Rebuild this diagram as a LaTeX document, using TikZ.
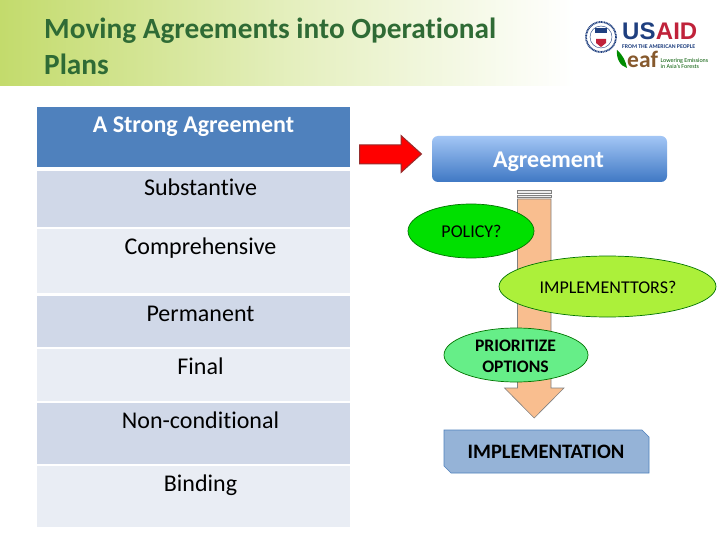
\documentclass[tikz,border=0pt]{standalone}
\usepackage{fontspec}
\setmainfont[Ligatures=NoCommon]{Carlito}
\newfontfamily\logofont{Liberation Sans}
\usetikzlibrary{shapes.geometric,shadings}
\definecolor{hdrgreen}{HTML}{C3DB6C}
\definecolor{titlegreen}{HTML}{2F6B35}
\definecolor{hdrblue}{HTML}{4F81BD}
\definecolor{rowa}{HTML}{D0D8E8}
\definecolor{rowb}{HTML}{E9EDF4}
\definecolor{peach}{HTML}{F9BE8F}
\definecolor{usblue}{HTML}{1F3F7F}
\definecolor{usred}{HTML}{C0223A}
\definecolor{boxtop}{HTML}{A3C6F5}
\definecolor{boxbot}{HTML}{3F78C4}
\tikzset{
  x=1pt,y=-1pt,
  rowtext/.style={font=\fontsize{24}{26}\selectfont,text=black,inner sep=0pt,anchor=base},
  bubble/.style={ellipse,draw=#1,line width=0.7pt,inner sep=0pt,outer sep=0pt},
  bubbletext/.style={text=black,inner sep=0pt,align=center}
}
\begin{document}
\begin{tikzpicture}
\useasboundingbox (0,0) rectangle (720,540);
\fill[white] (0,0) rectangle (720,540);
% header band
\fill[left color=hdrgreen,right color=white,middle color=hdrgreen!45!white] (0,0) rectangle (575,86);
\node[anchor=base west,inner sep=0pt,text=titlegreen,font=\bfseries\fontsize{29.3}{31}\selectfont] (title1) at (44,39) {Moving Agreements into Operational};
\node[anchor=base west,inner sep=0pt,text=titlegreen,font=\bfseries\fontsize{29.3}{31}\selectfont] (title2) at (44,75) {Plans};
% logos
\draw[usblue,line width=1.8pt,dash pattern=on 1pt off 0.6pt] (601,37) circle (15);
\draw[usblue,line width=0.4pt] (601,37) circle (11);
\fill[usblue] (595,28) rectangle (607,33);
\fill[usred] (596,39) -- (606,39) -- (606,43) -- (601,47) -- (596,43) -- cycle;
\node[anchor=base west,inner sep=0pt,font=\logofont\bfseries\fontsize{24}{24}\selectfont,text=usblue] (us) at (622,40) {US};
\node[anchor=base west,inner sep=0pt,font=\logofont\bfseries\fontsize{24}{24}\selectfont,text=usred] (aid) at (us.base east) {AID};
\node[anchor=base west,inner sep=0pt,font=\bfseries\fontsize{5.8}{6}\selectfont,text=usblue] (from) at (622,48.5) {FROM THE AMERICAN PEOPLE};
\fill[green!55!black] (617,50) .. controls (616,58) and (620,66) .. (627,68) .. controls (626,62) and (623,55) .. (617,50) -- cycle;
\node[anchor=base west,inner sep=0pt,font=\bfseries\fontsize{23.5}{25}\selectfont,text=brown!70!black] (leaf) at (627,68) {eaf};
\node[anchor=north west,inner sep=0pt,align=left,font=\fontsize{6}{6.4}\selectfont,text=green!35!black] (leaftext) at (660.5,58) {Lowering Emissions\\in Asia's Forests};
% table
\fill[hdrblue] (37,107) rectangle (350,167);
\fill[rowa] (37,171) rectangle (350,227);
\fill[rowb] (37,229) rectangle (350,293);
\fill[rowa] (37,296) rectangle (350,347);
\fill[rowb] (37,349) rectangle (350,401);
\fill[rowa] (37,403) rectangle (350,464);
\fill[rowb] (37,466) rectangle (350,527);
\node[rowtext,text=white,font=\bfseries\fontsize{24}{26}\selectfont] (thead) at (193.5,132.7) {A Strong Agreement};
\node[rowtext] (r1) at (200.5,195.8) {Substantive};
\node[rowtext] (r2) at (200.5,254.8) {Comprehensive};
\node[rowtext] (r3) at (200.5,321.5) {Permanent};
\node[rowtext] (r4) at (200.5,374.3) {Final};
\node[rowtext] (r5) at (200.5,428.3) {Non-conditional};
\node[rowtext] (r6) at (200.5,491.3) {Binding};
% red arrow
\draw[fill=red,draw={rgb,255:red,150;green,45;blue,45},line width=1pt] (359.5,145) -- (401,145) -- (401,135.5) -- (421.5,154) -- (401,172.5) -- (401,164) -- (359.5,164) -- cycle;
% agreement box
\node[rounded corners=6pt,top color=boxtop,bottom color=boxbot,minimum width=235pt,minimum height=46pt,inner sep=0pt,outer sep=0pt] (agree) at (549.5,159) {};
\node[anchor=base,inner sep=0pt,text=white,font=\bfseries\fontsize{24}{26}\selectfont] (agreet) at (548.5,168) {Agreement};
% big down arrow
\fill[peach] (517.5,199) -- (551,199) -- (551,388) -- (564,388) -- (534.2,418) -- (504.5,388) -- (517.5,388) -- cycle;
\draw[gray,line width=0.6pt] (517.5,199) -- (517.5,388) -- (504.5,388) -- (534.2,418) -- (564,388) -- (551,388) -- (551,199) -- cycle;
\draw[gray,line width=0.6pt,fill=white!85!gray] (517.5,190.5) rectangle (551,193);
\draw[gray,line width=0.6pt,fill=white!85!gray] (517.5,195) rectangle (551,197.5);
% bubbles
\node[bubble=green!45!black,fill=green!88!black,minimum width=126pt,minimum height=54pt] (policy) at (471,231) {};
\node[bubbletext,font=\fontsize{18}{20}\selectfont] (policyt) at (471.5,231.5) {POLICY?};
\node[bubble=green!45!black,fill={rgb,255:red,172;green,240;blue,58},minimum width=217pt,minimum height=61pt] (impl) at (607.5,286.5) {};
\node[bubbletext,font=\fontsize{18}{20}\selectfont] (implt) at (608,287) {IMPLEMENTTORS?};
\node[bubble=green!45!black,fill={rgb,255:red,102;green,238;blue,136},minimum width=144pt,minimum height=54pt] (prio) at (516,355) {};
\node[bubbletext,font=\bfseries\fontsize{17.6}{21}\selectfont] (priot) at (515.5,356) {PRIORITIZE\\OPTIONS};
% implementation
\draw[fill={rgb,255:red,149;green,179;blue,215},draw=hdrblue,line width=0.6pt] (444,430) -- (642,430) -- (649,437) -- (649,473) -- (451,473) -- (444,466) -- cycle;
\node[bubbletext,font=\bfseries\fontsize{20.5}{22}\selectfont] (implem) at (546,452) {IMPLEMENTATION};
\end{tikzpicture}
\end{document}
